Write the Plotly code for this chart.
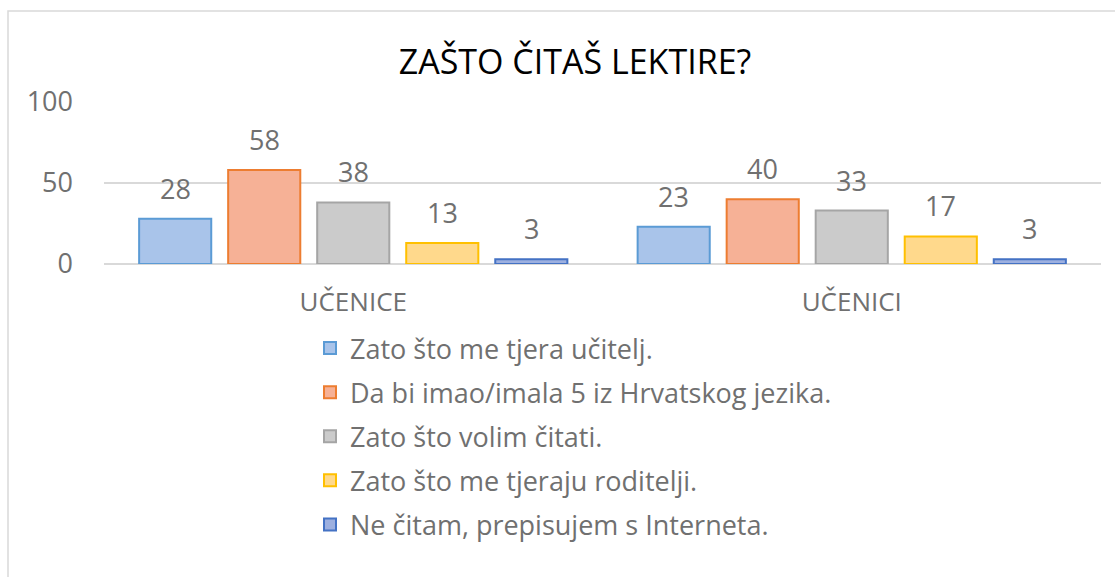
import plotly.graph_objects as go

categories = ["UČENICE", "UČENICI"]
series_names = [
    "Zato što me tjera učitelj.",
    "Da bi imao/imala 5 iz Hrvatskog jezika.",
    "Zato što volim čitati.",
    "Zato što me tjeraju roditelji.",
    "Ne čitam, prepisujem s Interneta.",
]
values = [
    [28, 23],
    [58, 40],
    [38, 33],
    [13, 17],
    [3, 3],
]
fill_colors = ["#A9C4EA", "#F6B196", "#CBCBCB", "#FFD98C", "#9DB0E0"]
line_colors = ["#5B9BD5", "#ED7D31", "#A5A5A5", "#FFC000", "#4472C4"]
y_ticks = [0, 50, 100]

FONT = "Open Sans"
GRAY = "#707070"

fig = go.Figure()
for name, vals, fc, lc in zip(series_names, values, fill_colors, line_colors):
    fig.add_trace(go.Bar(
        x=categories, y=vals, name=name,
        marker=dict(color=fc, line=dict(color=lc, width=2)),
        legendgroup=name,
    ))

# data labels above bars (offset per series within group)
n = len(series_names)
slot_px = 89
annotations = []
for i, vals in enumerate(values):
    for cat, v in zip(categories, vals):
        annotations.append(dict(
            x=cat, y=v, xref="x", yref="y", text=str(v), showarrow=False,
            xshift=(i - (n - 1) / 2) * slot_px, yanchor="bottom", yshift=10,
            font=dict(family=FONT, size=27, color=GRAY),
        ))

fig.update_layout(
    width=1115, height=577,
    margin=dict(l=104, r=14, t=102, b=313),
    paper_bgcolor="white", plot_bgcolor="white",
    barmode="group", bargap=0.107, bargroupgap=0.19,
    title=dict(text="ZAŠTO ČITAŠ LEKTIRE?", x=575 / 1115, xanchor="center",
               y=1 - 62 / 577, yanchor="middle",
               font=dict(family=FONT, size=34, color="#000000")),
    font=dict(family=FONT, color=GRAY),
    showlegend=True,
    legend=dict(orientation="v", x=(310 - 104) / 997, xanchor="left",
                y=(264 - 324) / 162, yanchor="top",
                font=dict(family=FONT, size=27, color=GRAY),
                tracegroupgap=6, bgcolor="rgba(0,0,0,0)"),
    xaxis=dict(showgrid=False, ticks="", showline=False,
               ticklabelstandoff=20,
               tickfont=dict(family=FONT, size=26, color=GRAY)),
    yaxis=dict(range=[0, 100], tickvals=y_ticks, showgrid=True,
               gridcolor="#D9D9D9", gridwidth=1.5, zeroline=True,
               zerolinecolor="#D9D9D9", zerolinewidth=1.5, ticks="",
               ticklabelstandoff=30,
               tickfont=dict(family=FONT, size=27, color=GRAY)),
    annotations=annotations,
    shapes=[dict(type="rect", xref="paper", yref="paper",
                 x0=(8 - 104) / 997, x1=(1125 - 104) / 997,
                 y0=(264 - 590) / 162, y1=(264 - 11) / 162,
                 line=dict(color="#D9D9D9", width=1.5), layer="below")],
)

fig.write_html("out.html")
